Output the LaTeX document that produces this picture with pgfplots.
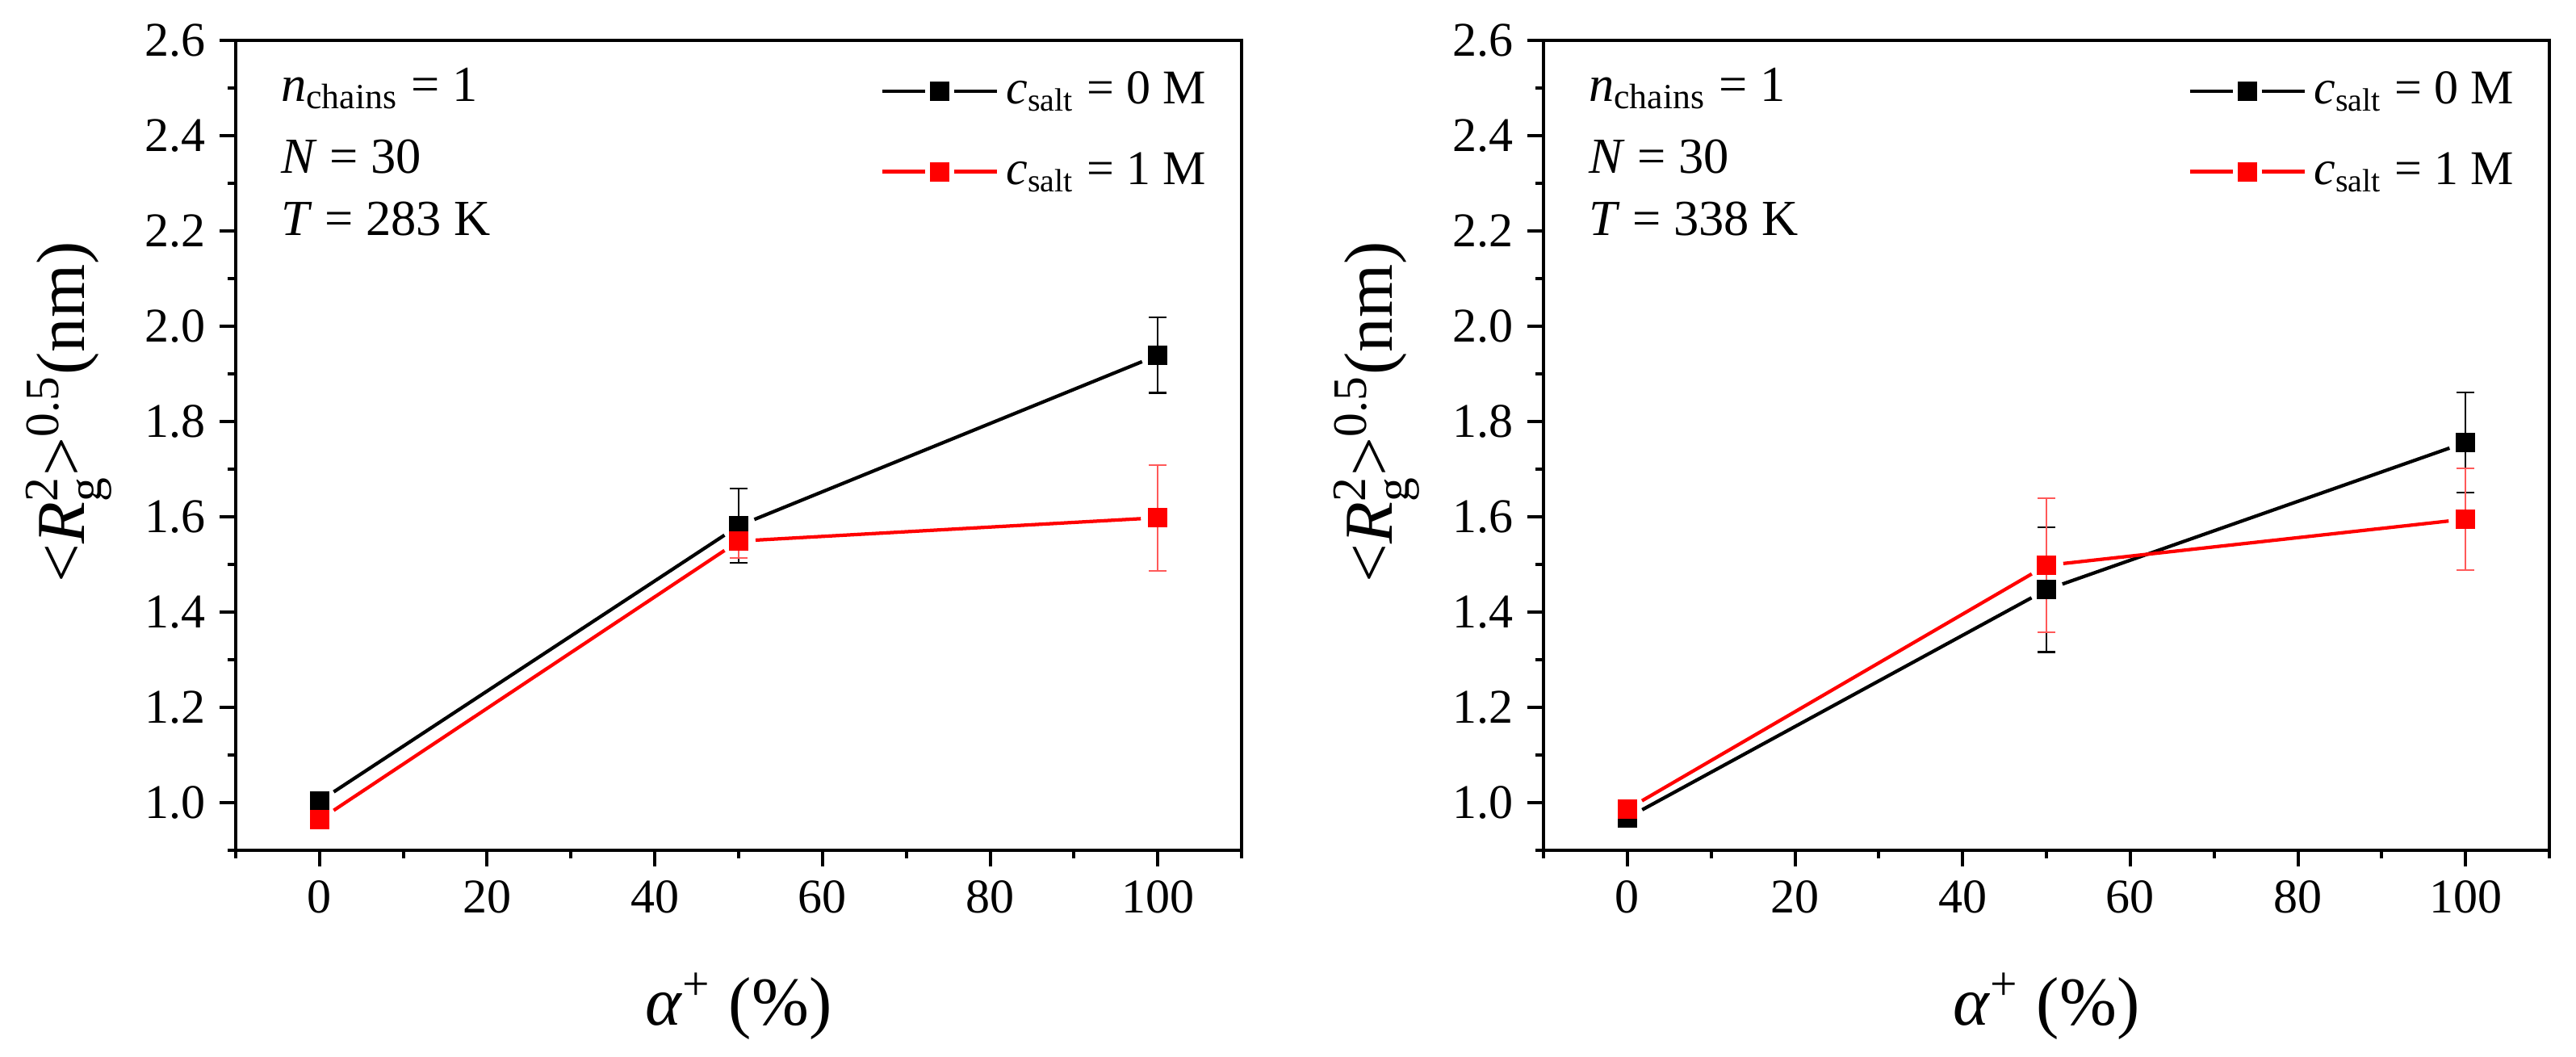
\documentclass[border=0pt]{standalone}
\usepackage{fontspec}
\setmainfont{Liberation Serif}
\usepackage{amsmath}
\usepackage{pgfplots}
\pgfplotsset{compat=1.18}

\newcommand{\tickfont}{\fontsize{12}{14}\selectfont}
\newcommand{\annfont}{\fontsize{12.5}{15}\selectfont}
\newcommand{\legfont}{\fontsize{12}{14.5}\selectfont}
\newcommand{\labfont}{\fontsize{17}{20}\selectfont}

\pgfplotsset{
  myaxis/.style={
    scale only axis, width=249.2pt, height=200.6pt,
    xmin=-10, xmax=110, ymin=0.9, ymax=2.6,
    xtick={0,20,40,60,80,100},
    minor xtick={-10,10,30,50,70,90,110},
    ytick={1.0,1.2,1.4,1.6,1.8,2.0,2.2,2.4,2.6},
    minor ytick={0.9,1.1,1.3,1.5,1.7,1.9,2.1,2.3,2.5},
    xtick pos=bottom, ytick pos=left,
    tick align=outside,
    major tick length=4pt, minor tick length=2pt,
    axis line style={line width=0.8pt},
    every tick/.style={line width=0.8pt, black},
    /pgf/number format/assume math mode=true,
    ticklabel style={font=\tickfont},
    yticklabel style={/pgf/number format/.cd, fixed, fixed zerofill, precision=1},
    xlabel={\textit{α}$^{\text{+}}$ (\%)},
    ylabel={$\text{<}\text{\textit{R}}_{\text{g}}^{\text{2}}\text{>}^{\text{0.5}}$(nm)},
    label style={font=\labfont},
    xlabel style={at={(axis description cs:0.5,-0.216)}, anchor=base},
    ylabel style={at={(axis description cs:-0.166,0.541)}, anchor=center},
    clip=false,
    legend cell align=left,
    legend style={draw=none, fill=none, font=\legfont,
      at={(axis description cs:0.64,0.972)}, anchor=north west,
      inner sep=0pt, row sep=6.5pt},
  },
  seg/.style={line width=0.85pt, shorten <=4.2pt, shorten >=4.2pt, forget plot},
  blk/.style={only marks, mark=square*, mark size=2.3pt, black,
    mark options={solid, fill=black, draw=black, line width=0pt},
    error bars/.cd, y dir=both, y explicit, error mark=-,
    error bar style={line width=0.45pt, black},
    error mark options={rotate=90, line width=0.45pt, mark size=2.2pt, black}},
  rd/.style={only marks, mark=square*, mark size=2.3pt, red,
    mark options={solid, fill=red, draw=red, line width=0pt},
    error bars/.cd, y dir=both, y explicit, error mark=-,
    error bar style={line width=0.45pt, red!65},
    error mark options={rotate=90, line width=0.45pt, mark size=2.2pt, red!65}},
  blkleg/.style={legend image code/.code={
    \draw[black, line width=0.85pt] (0pt,0pt) -- (10.6pt,0pt) (17.8pt,0pt) -- (28.4pt,0pt);
    \draw[black, only marks, mark=square*, mark size=2.3pt, mark options={fill=black, line width=0pt}] plot coordinates {(14.2pt,0pt)};}},
  rdleg/.style={legend image code/.code={
    \draw[red, line width=0.85pt] (0pt,0pt) -- (10.6pt,0pt) (17.8pt,0pt) -- (28.4pt,0pt);
    \draw[red, only marks, mark=square*, mark size=2.3pt, mark options={fill=red, line width=0pt}] plot coordinates {(14.2pt,0pt)};}},
}

\begin{document}
\begin{tikzpicture}
\path[use as bounding box] (0pt,0pt) rectangle (638.2pt,261.8pt);

% ---------------- left panel ----------------
\begin{axis}[myaxis, at={(58.4pt,51.2pt)}, anchor=south west]
\addplot[seg, black] coordinates {(0,1.003) (50,1.581)};
\addplot[seg, black] coordinates {(50,1.581) (100,1.939)};
\addplot[blkleg, blk] coordinates {
  (0,1.003) +- (0,0.01)
  (50,1.581) +- (0,0.078)
  (100,1.939) +- (0,0.079)
};
\addlegendentry{\textit{c}$_{\text{salt}}$ = 0 M}
\addplot[seg, red] coordinates {(0,0.964) (50,1.549)};
\addplot[seg, red] coordinates {(50,1.549) (100,1.598)};
\addplot[rdleg, rd] coordinates {
  (0,0.964) +- (0,0.01)
  (50,1.549) +- (0,0.035)
  (100,1.598) +- (0,0.111)
};
\addlegendentry{\textit{c}$_{\text{salt}}$ = 1 M}
\node[anchor=base west, font=\annfont] at (axis description cs:0.031,0.925) {\textit{n}$_{\text{chains}}$ = 1};
\node[anchor=base west, font=\annfont] at (axis description cs:0.031,0.836) {\textit{N} = 30};
\node[anchor=base west, font=\annfont] at (axis description cs:0.031,0.759) {\textit{T} = 283 K};
\end{axis}

% ---------------- right panel ----------------
\begin{axis}[myaxis, at={(382.4pt,51.2pt)}, anchor=south west]
\addplot[seg, black] coordinates {(0,0.968) (50,1.447)};
\addplot[seg, black] coordinates {(50,1.447) (100,1.756)};
\addplot[blkleg, blk] coordinates {
  (0,0.968) +- (0,0.01)
  (50,1.447) +- (0,0.131)
  (100,1.756) +- (0,0.105)
};
\addlegendentry{\textit{c}$_{\text{salt}}$ = 0 M}
\addplot[seg, red] coordinates {(0,0.986) (50,1.498)};
\addplot[seg, red] coordinates {(50,1.498) (100,1.595)};
\addplot[rdleg, rd] coordinates {
  (0,0.986) +- (0,0.01)
  (50,1.498) +- (0,0.141)
  (100,1.595) +- (0,0.107)
};
\addlegendentry{\textit{c}$_{\text{salt}}$ = 1 M}
\node[anchor=base west, font=\annfont] at (axis description cs:0.031,0.925) {\textit{n}$_{\text{chains}}$ = 1};
\node[anchor=base west, font=\annfont] at (axis description cs:0.031,0.836) {\textit{N} = 30};
\node[anchor=base west, font=\annfont] at (axis description cs:0.031,0.759) {\textit{T} = 338 K};
\end{axis}
\end{tikzpicture}
\end{document}
